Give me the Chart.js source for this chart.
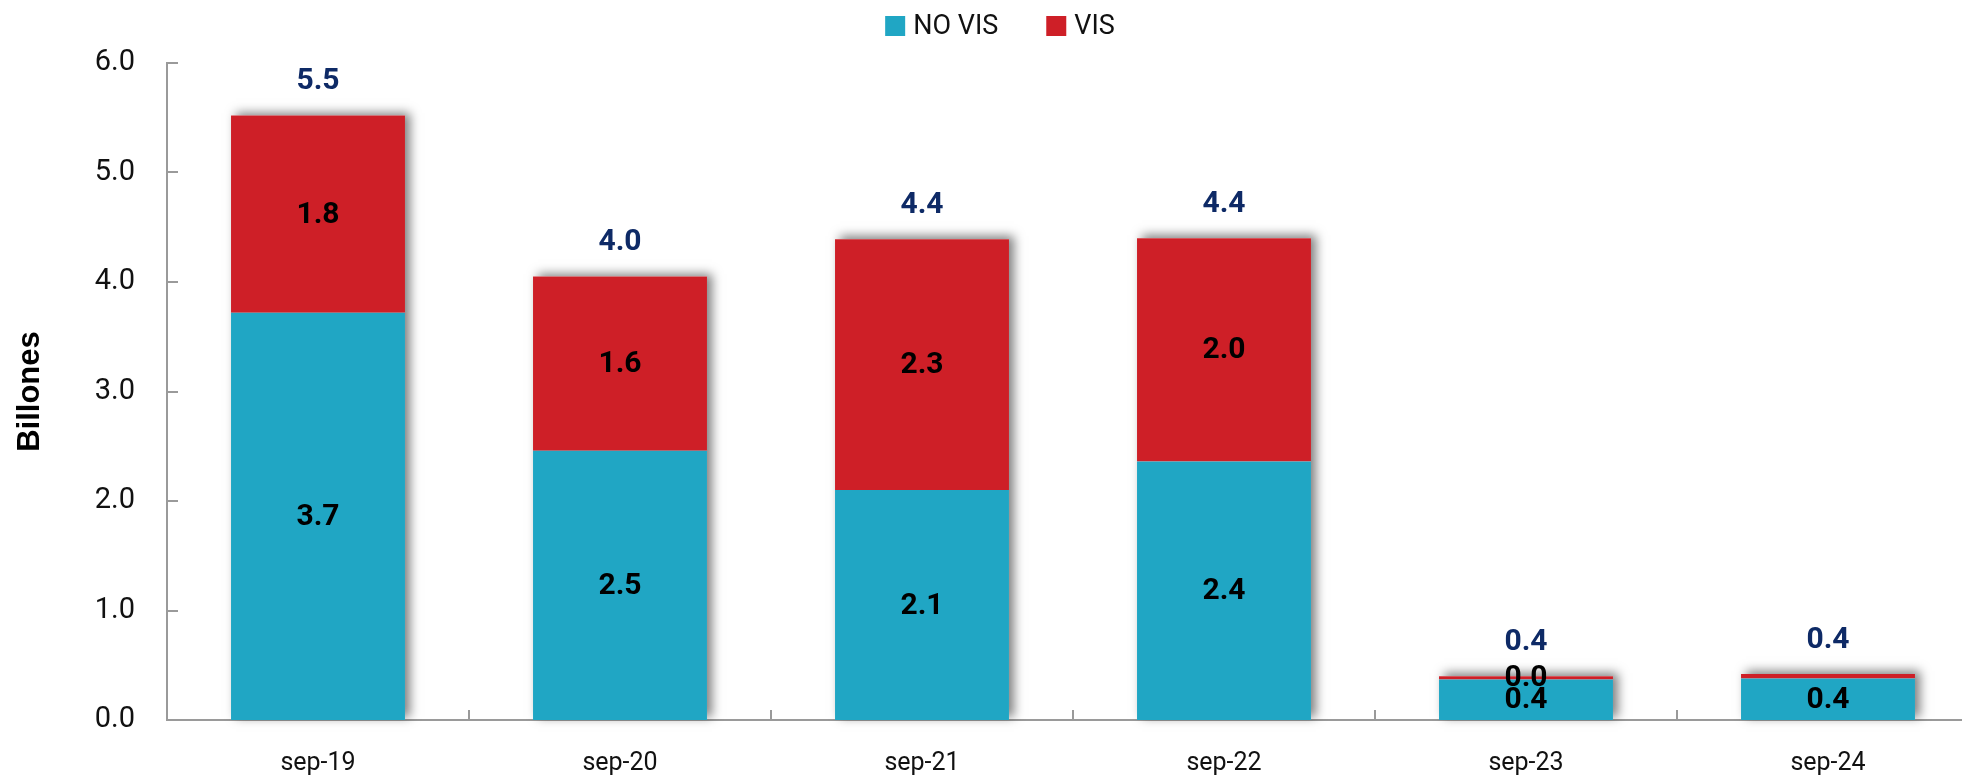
<!DOCTYPE html>
<html>
<head>
<meta charset="utf-8">
<script src="https://cdn.jsdelivr.net/npm/chart.js@4.4.1/dist/chart.umd.min.js"></script>
<style>
    html, body { margin: 0; padding: 0; background: #fff; overflow: hidden; }
    #wrap { width: 1962px; height: 778px; overflow: hidden; }
</style>
</head>
<body>
<div id="wrap"><canvas id="chart" width="1990" height="778"></canvas></div>
<script>
const categories = ['sep-19', 'sep-20', 'sep-21', 'sep-22', 'sep-23', 'sep-24'];
const noVisValues = [3.72, 2.46, 2.10, 2.36, 0.37, 0.38];
const visValues = [1.80, 1.59, 2.29, 2.04, 0.03, 0.04];
const yTicks = [0, 1, 2, 3, 4, 5, 6];
const hiddenVisLabels = ['sep-24'];

const FONT = 'Roboto, "DejaVu Sans", sans-serif';
const TEAL = '#20A6C4';
const RED = '#CE1F27';
const NAVY = '#0E2A66';
const AXIS = '#9a9a9a';

// soft shadow behind each stack (top + right side)
const stackShadow = {
    id: 'stackShadow',
    beforeDatasetsDraw(chart) {
        const ctx = chart.ctx;
        const bottom = chart.getDatasetMeta(0).data;
        const top = chart.getDatasetMeta(1).data;
        ctx.save();
        ctx.shadowColor = 'rgba(0,0,0,0.5)';
        ctx.shadowBlur = 10;
        ctx.shadowOffsetX = 5;
        ctx.shadowOffsetY = -3;
        ctx.fillStyle = '#fff';
        top.forEach((el, i) => {
            const w = el.width;
            ctx.fillRect(el.x - w / 2, el.y, w, bottom[i].base - el.y);
        });
        ctx.restore();
    }
};

// value labels inside segments and totals above stacks
const valueLabels = {
    id: 'valueLabels',
    afterDatasetsDraw(chart) {
        const ctx = chart.ctx;
        ctx.save();
        ctx.textAlign = 'center';
        ctx.textBaseline = 'middle';
        ctx.font = 'bold 30px ' + FONT;
        ctx.fillStyle = '#000';
        chart.data.datasets.forEach((ds, d) => {
            chart.getDatasetMeta(d).data.forEach((el, i) => {
                if (d === 1 && hiddenVisLabels.includes(categories[i])) return;
                ctx.fillText(ds.data[i].toFixed(1), el.x, (el.y + el.base) / 2 + 1);
            });
        });
        ctx.fillStyle = NAVY;
        chart.getDatasetMeta(1).data.forEach((el, i) => {
            const total = noVisValues[i] + visValues[i];
            ctx.fillText(total.toFixed(1), el.x, el.y - 34);
        });
        ctx.restore();
    }
};

// inward tick marks on both axes
const innerTicks = {
    id: 'innerTicks',
    afterDraw(chart) {
        const ctx = chart.ctx;
        const x = chart.scales.x;
        const y = chart.scales.y;
        const area = chart.chartArea;
        ctx.save();
        ctx.strokeStyle = AXIS;
        ctx.lineWidth = 2;
        ctx.beginPath();
        y.ticks.forEach(t => {
            const py = Math.round(y.getPixelForValue(t.value));
            ctx.moveTo(area.left, py);
            ctx.lineTo(area.left + 11, py);
        });
        for (let i = 0; i < categories.length - 1; i++) {
            const px = Math.round((x.getPixelForValue(i) + x.getPixelForValue(i + 1)) / 2);
            ctx.moveTo(px, area.bottom);
            ctx.lineTo(px, area.bottom - 10);
        }
        ctx.stroke();
        ctx.restore();
    }
};

// legend at the top, centred
const topLegend = {
    id: 'topLegend',
    afterDraw(chart) {
        const ctx = chart.ctx;
        const box = 20, gapText = 8, gapItem = 48;
        ctx.save();
        ctx.font = '27px ' + FONT;
        ctx.textBaseline = 'middle';
        ctx.textAlign = 'left';
        const items = chart.data.datasets.map(ds => ({
            text: ds.label, color: ds.backgroundColor, w: ctx.measureText(ds.label).width
        }));
        let total = 0;
        items.forEach((it, k) => { total += box + gapText + it.w + (k ? gapItem : 0); });
        let cx = 1000 - total / 2;
        items.forEach(it => {
            ctx.fillStyle = it.color;
            ctx.fillRect(cx, 16, box, box);
            ctx.fillStyle = '#111';
            ctx.fillText(it.text, cx + box + gapText, 27);
            cx += box + gapText + it.w + gapItem;
        });
        ctx.restore();
    }
};

new Chart(document.getElementById('chart'), {
    type: 'bar',
    data: {
        labels: categories,
        datasets: [
            { label: 'NO VIS', data: noVisValues, backgroundColor: TEAL },
            { label: 'VIS', data: visValues, backgroundColor: RED }
        ]
    },
    options: {
        responsive: false,
        animation: false,
        devicePixelRatio: 1,
        layout: { padding: { top: 63, right: 11, left: 0, bottom: 0 } },
        datasets: {
            bar: { barPercentage: 0.576, categoryPercentage: 1 }
        },
        plugins: {
            legend: { display: false },
            tooltip: { enabled: false }
        },
        scales: {
            x: {
                stacked: true,
                grid: { display: false, drawTicks: false },
                border: { display: true, color: AXIS, width: 2 },
                ticks: { color: '#111', font: { family: FONT, size: 25 }, padding: 29 },
                afterFit(scale) { scale.height = 58; }
            },
            y: {
                stacked: true,
                min: 0,
                max: 6,
                grid: { display: false, drawTicks: false },
                border: { display: true, color: AXIS, width: 2 },
                afterBuildTicks(scale) { scale.ticks = yTicks.map(v => ({ value: v })); },
                ticks: {
                    color: '#111',
                    font: { family: FONT, size: 29 },
                    padding: 32,
                    callback: v => v.toFixed(1)
                },
                title: {
                    display: true,
                    text: 'Billones',
                    color: '#000',
                    font: { family: '"Liberation Sans", Arial, sans-serif', size: 31, weight: 'bold' },
                    padding: { top: 12, bottom: 0 }
                },
                afterFit(scale) { scale.width = 167; }
            }
        }
    },
    plugins: [stackShadow, valueLabels, innerTicks, topLegend]
});
</script>
</body>
</html>
